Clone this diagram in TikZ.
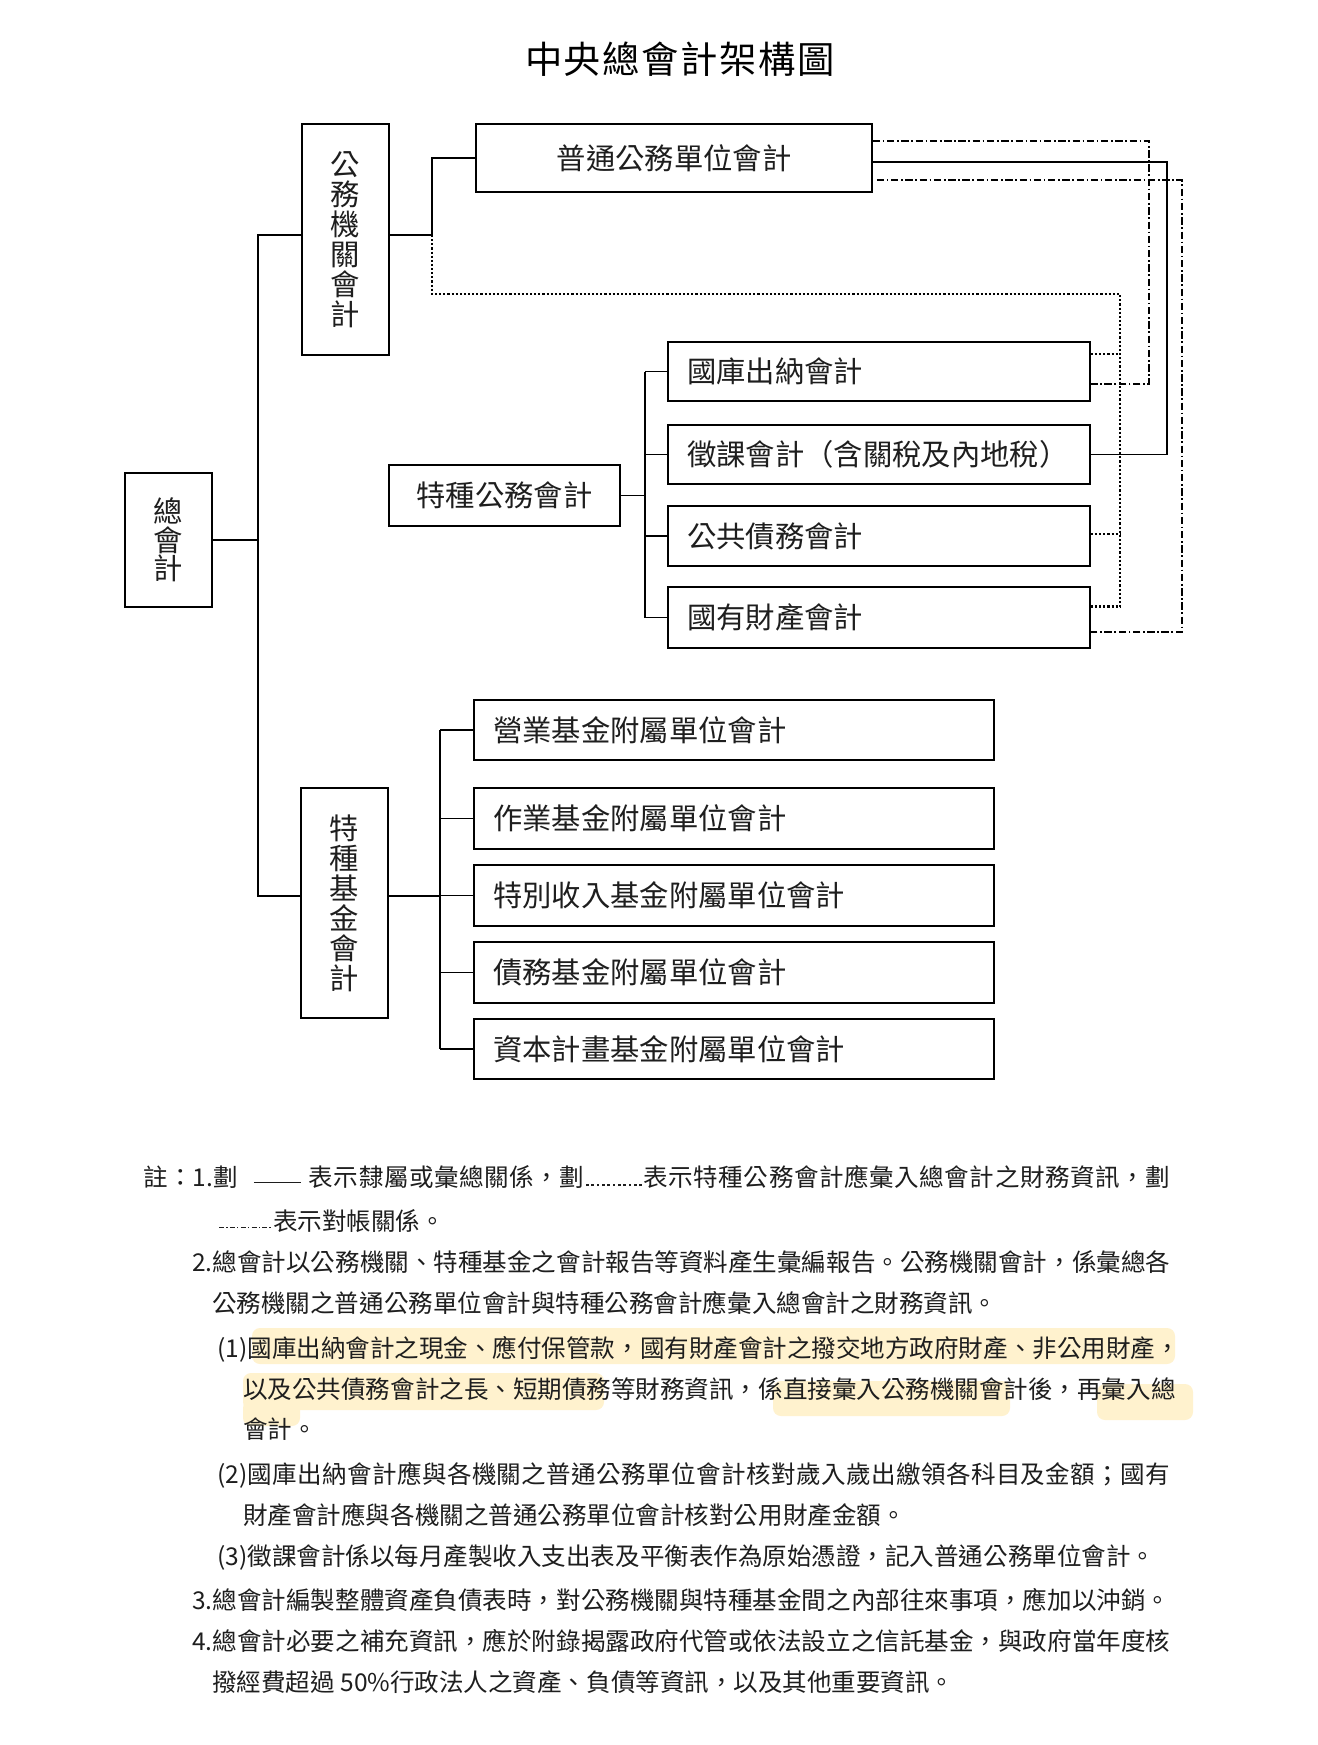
\documentclass[tikz,border=0pt]{standalone}
\usepackage{fontspec}
\setmainfont{Noto Sans CJK TC}
\usetikzlibrary{calc}
\newdimen\pxu \pxu=0.75pt
% inter-character glue between CJK characters, so that \makebox[..][s] can justify
\newXeTeXintercharclass\cjkcls
\newcount\cjkc
\cjkc="4E00
\loop \XeTeXcharclass\cjkc=\cjkcls \advance\cjkc by 1 \ifnum\cjkc<"A000 \repeat
\cjkc="3000
\loop \XeTeXcharclass\cjkc=\cjkcls \advance\cjkc by 1 \ifnum\cjkc<"3040 \repeat
\cjkc="FF00
\loop \XeTeXcharclass\cjkc=\cjkcls \advance\cjkc by 1 \ifnum\cjkc<"FFF0 \repeat
\XeTeXinterchartoks\cjkcls\cjkcls={\hskip 0pt plus 1pt\relax}
\XeTeXinterchartokenstate=1
\definecolor{hlcolor}{RGB}{255,242,206}
\definecolor{inkc}{RGB}{30,30,30}
\newcommand{\jline}[2]{\makebox[#1\pxu][s]{#2}}
\newcommand{\boxtxt}[2]{\makebox[#1\pxu][l]{#2}}
\newcommand{\dotsample}{\xleaders\hbox to 5\pxu{\hss\rule{2.4\pxu}{2.4\pxu}\hss}\hskip 59\pxu\relax}
\newcommand{\ddsample}{\raisebox{2\pxu}{\xleaders\hbox to 10\pxu{\rule{5\pxu}{1.4\pxu}\hskip 2\pxu\rule{1.4\pxu}{1.4\pxu}\hss}\hskip 55\pxu\relax}}
\begin{document}
\begin{tikzpicture}[x=0.75pt,y=-0.75pt,
  boxfont/.style={font=\fontsize{22pt}{22.5pt}\selectfont},
  vbox/.style={draw=black, line width=1.25pt, minimum width=87\pxu, inner sep=0pt, align=center, text=inkc, boxfont},
  cbox/.style={draw=black, line width=1.25pt, inner sep=0pt, text=inkc, boxfont},
  lbox/.style={draw=black, line width=1.25pt, inner xsep=19\pxu, inner ysep=0pt, text=inkc, boxfont},
  conn/.style={draw=black, line width=1pt},
  dotline/.style={draw=black, line width=1.9pt, dash pattern=on 1.6pt off 1.5pt},
  ddline/.style={draw=black, line width=1.1pt, dash pattern=on 5.5pt off 2pt on 1.2pt off 2pt},
  note/.style={anchor=base west, inner sep=0pt, text=inkc, font=\fontsize{18.4pt}{20pt}\selectfont},
  hl/.style={fill=hlcolor, draw=none, rounded corners=6pt}
]
\fill[white] (0,0) rectangle (1317,1745);
\useasboundingbox (0,0) rectangle (1317,1745);

% title
\node[font=\fontsize{28pt}{32pt}\selectfont, text=black, inner sep=0pt] (title) at (680,59) {\makebox[310\pxu][s]{中央總會計架構圖}};

% left column boxes
\node[vbox, minimum height=134\pxu, font=\fontsize{22pt}{21.4pt}\selectfont] (zong) at (168.5,540) {總\\會\\計};
\node[vbox, minimum height=231\pxu] (gwjg) at (345.5,239.5) {公\\務\\機\\關\\會\\計};
\node[vbox, minimum height=230\pxu] (tzjj) at (344.5,903) {特\\種\\基\\金\\會\\計};

% middle boxes
\node[cbox, minimum width=396\pxu, minimum height=68\pxu] (ptgw) at (674,158) {普通公務單位會計};
\node[cbox, minimum width=231\pxu, minimum height=61\pxu] (tzgw) at (504.5,495.5) {特種公務會計};

% special public affairs children
\node[lbox, minimum height=59\pxu] (gkcn) at (879,371.5) {\boxtxt{384}{國庫出納會計}};
\node[lbox, minimum height=59\pxu] (zkcn) at (879,454.5) {\boxtxt{384}{徵課會計（含關稅及內地稅）}};
\node[lbox, minimum height=60\pxu] (gggw) at (879,536) {\boxtxt{384}{公共債務會計}};
\node[lbox, minimum height=61\pxu] (gycc) at (879,617.5) {\boxtxt{384}{國有財產會計}};

% special fund children
\node[lbox, minimum height=60\pxu] (f1) at (734,730) {\boxtxt{482}{營業基金附屬單位會計}};
\node[lbox, minimum height=61\pxu] (f2) at (734,818.5) {\boxtxt{482}{作業基金附屬單位會計}};
\node[lbox, minimum height=61\pxu] (f3) at (734,895.5) {\boxtxt{482}{特別收入基金附屬單位會計}};
\node[lbox, minimum height=61\pxu] (f4) at (734,972.5) {\boxtxt{482}{債務基金附屬單位會計}};
\node[lbox, minimum height=60\pxu] (f5) at (734,1049) {\boxtxt{482}{資本計畫基金附屬單位會計}};

% junction coordinates
\coordinate (trunkTop) at (258,235);
\coordinate (trunkBot) at (258,896);
\coordinate (j1) at (432,235);
\coordinate (tv) at (645,495);
\coordinate (fv) at (440,896);
\coordinate (d1) at (432,294);
\coordinate (d2) at (1120,294);
\coordinate (vx1) at (1149,141);
\coordinate (vx2) at (1182,180);
\coordinate (sx) at (1167,162);

% solid hierarchy
\draw[conn] (zong.east) -- (zong.east -| trunkTop);
\draw[conn] (gwjg.west |- trunkTop) -- (trunkTop) -- (trunkBot) -- (tzjj.west |- trunkBot);
\draw[conn] (gwjg.east |- j1) -- (j1) |- (ptgw.west);
\draw[conn] (tzgw.east) -- (tzgw.east -| tv);
\draw[conn] (tv |- gkcn.west) -- (tv |- gycc.west);
\foreach \n in {gkcn,zkcn,gggw,gycc} \draw[conn] (tv |- \n.west) -- (\n.west);
\draw[conn] (tzjj.east |- fv) -- (fv);
\draw[conn] (fv |- f1.west) -- (fv |- f5.west);
\foreach \n in {f1,f2,f3,f4,f5} \draw[conn] (fv |- \n.west) -- (\n.west);
\draw[conn] (ptgw.east |- sx) -- (sx) -- (sx |- zkcn.east) -- (zkcn.east);

% dotted: special public affairs info into government agency accounting
\coordinate (gkdot) at ([yshift=13.1pt]gkcn.east);
\coordinate (ggdot) at ([yshift=1.5pt]gggw.east);
\coordinate (gydot) at ([yshift=8.1pt]gycc.east);
\draw[dotline] (j1) -- (d1) -- (d2) -- (d2 |- gydot);
\draw[dotline] (gkdot) -- (gkdot -| d2);
\draw[dotline] (ggdot) -- (ggdot -| d2);
\draw[dotline] (gydot) -- (gydot -| d2);

% dash-dot: reconciliation
\coordinate (gkdd) at ([yshift=-9.4pt]gkcn.east);
\coordinate (gydd) at ([yshift=-10.9pt]gycc.east);
\draw[ddline] (ptgw.east |- vx1) -- (vx1) -- (vx1 |- gkdd) -- (gkdd);
\draw[ddline] ([xshift=3pt]ptgw.east |- vx2) -- (vx2) -- (vx2 |- gydd) -- (gydd);

% highlights
\path[hl] (252,1328) rectangle (1175,1364);
\path[hl] (243,1373) rectangle (604,1410);
\path[hl] (773,1381) rectangle (1010,1416);
\path[hl] (1097,1384) rectangle (1193,1420);
\path[hl] (243,1400) rectangle (300,1426);

% notes
\node[note] (n1) at (143,1186) {\jline{1027}{註：1.劃\hspace{16\pxu}\rule[3\pxu]{47\pxu}{1.2\pxu}\hspace{8\pxu}表示隸屬或彙總關係，劃\dotsample 表示特種公務會計應彙入總會計之財務資訊，劃}};
\node[note] (n2) at (218,1230) {\ddsample 表示對帳關係。};
\node[note] (n3) at (192,1271) {\jline{978}{2.總會計以公務機關、特種基金之會計報告等資料產生彙編報告。公務機關會計，係彙總各}};
\node[note] (n4) at (212,1312) {公務機關之普通公務單位會計與特種公務會計應彙入總會計之財務資訊。};
\node[note] (n5) at (217,1357) {\jline{953}{(1)國庫出納會計之現金、應付保管款，國有財產會計之撥交地方政府財產、非公用財產，}};
\node[note] (n6) at (243,1398) {\jline{927}{以及公共債務會計之長、短期債務等財務資訊，係直接彙入公務機關會計後，再彙入總}};
\node[note] (n7) at (243,1438) {會計。};
\node[note] (n8) at (217,1483) {\jline{953}{(2)國庫出納會計應與各機關之普通公務單位會計核對歲入歲出繳領各科目及金額；國有}};
\node[note] (n9) at (243,1524) {財產會計應與各機關之普通公務單位會計核對公用財產金額。};
\node[note] (n10) at (217,1565) {(3)徵課會計係以每月產製收入支出表及平衡表作為原始憑證，記入普通公務單位會計。};
\node[note] (n11) at (192,1609) {\jline{978}{3.總會計編製整體資產負債表時，對公務機關與特種基金間之內部往來事項，應加以沖銷。}};
\node[note] (n12) at (192,1650) {\jline{978}{4.總會計必要之補充資訊，應於附錄揭露政府代管或依法設立之信託基金，與政府當年度核}};
\node[note] (n13) at (212,1691) {撥經費超過 50\%行政法人之資產、負債等資訊，以及其他重要資訊。};
\end{tikzpicture}
\end{document}
